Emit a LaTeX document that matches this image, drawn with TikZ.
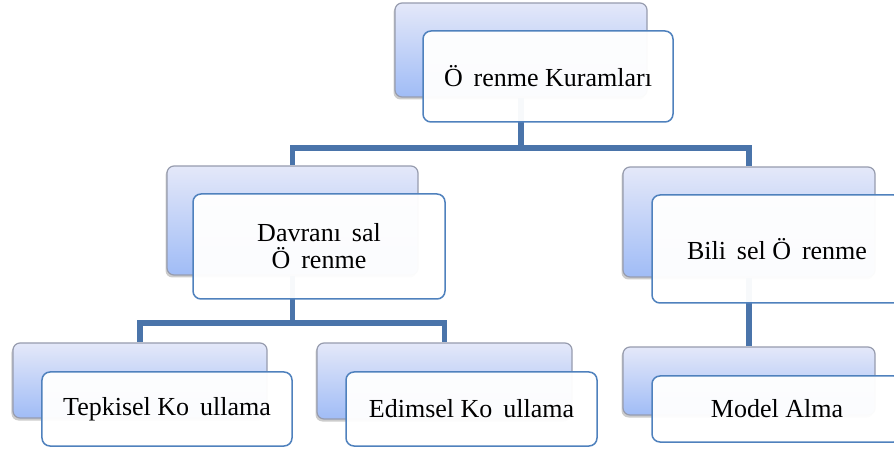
\documentclass[tikz,border=0pt]{standalone}
\usepackage{fontspec}
\setmainfont{Liberation Serif}
\usetikzlibrary{shadows}
\definecolor{linkblue}{HTML}{4A74AA}
\definecolor{frameblue}{HTML}{4F81BD}
\definecolor{backedge}{HTML}{979CAE}
\definecolor{backtop}{HTML}{E4E8F9}
\definecolor{backbottom}{HTML}{A0BCF6}
% blank left where a glyph is missing from the label
\newcommand\gapch{\hspace{0.42em}}
\tikzset{
  backbox/.style={rectangle, rounded corners=7bp, draw=backedge, line width=1.2bp,
    top color=backtop, bottom color=backbottom, inner sep=0pt,
    drop shadow={shadow xshift=-1.5bp, shadow yshift=-2.5bp, opacity=0.4}},
  frontbox/.style={rectangle, rounded corners=8bp, draw=frameblue, line width=1.5bp,
    fill=white, fill opacity=0.96, text opacity=1, draw opacity=1, inner sep=0pt,
    align=center, font=\fontsize{26bp}{27bp}\selectfont},
  link/.style={draw=linkblue, line width=5.3bp}
}
\begin{document}
\begin{tikzpicture}[x=1bp,y=-1bp]
\useasboundingbox (0,0) rectangle (894,451);
\clip (0,0) rectangle (894,451);

% shaded back cards
\node[backbox, minimum width=252bp, minimum height=94bp]  (b0) at (521,50) {};
\node[backbox, minimum width=251bp, minimum height=109bp] (b1) at (292.5,220.5) {};
\node[backbox, minimum width=252bp, minimum height=110bp] (b2) at (749,222) {};
\node[backbox, minimum width=254bp, minimum height=75bp]  (b3) at (140,380.5) {};
\node[backbox, minimum width=255bp, minimum height=76bp]  (b4) at (444.5,381) {};
\node[backbox, minimum width=252bp, minimum height=68bp]  (b5) at (749,381) {};

% tree connectors
\coordinate (j0) at (521,148);
\coordinate (j1) at (292.5,323);
\draw[link] (b0.south) -- (j0) -| (b1.north);
\draw[link] (j0) -| (b2.north);
\draw[link] (b1.south) -- (j1) -| (b3.north);
\draw[link] (j1) -| (b4.north);
\draw[link] (b2.south) -- (b5.north);

% labelled front cards
\node[frontbox, minimum width=250bp, minimum height=91bp]  (f0) at (548,76.5) {Ö\gapch renme Kuramları};
\node[frontbox, minimum width=252bp, minimum height=105bp] (f1) at (319,246.5) {Davranı\gapch sal\\Ö\gapch renme};
\node[frontbox, minimum width=250bp, minimum height=108bp] (f2) at (777,249) {Bili\gapch sel Ö\gapch renme};
\node[frontbox, minimum width=250bp, minimum height=74bp]  (f3) at (167,409) {Tepkisel Ko\gapch ullama};
\node[frontbox, minimum width=251bp, minimum height=74bp]  (f4) at (471.5,409) {Edimsel Ko\gapch ullama};
\node[frontbox, minimum width=250bp, minimum height=66bp]  (f5) at (777,409) {Model Alma};
\end{tikzpicture}
\end{document}
